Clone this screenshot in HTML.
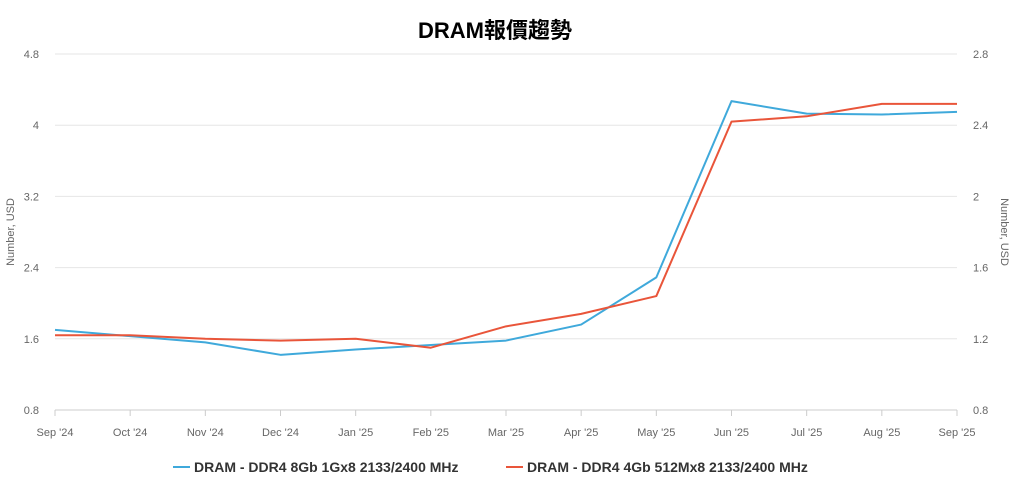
<!DOCTYPE html>
<html><head><meta charset="utf-8"><style>
body{margin:0;background:#fff;font-family:"Liberation Sans","Noto Sans CJK TC",sans-serif;}
svg text{font-family:"Liberation Sans","Noto Sans CJK TC",sans-serif;}
</style></head><body>
<svg id="chart" width="1015" height="481" xmlns="http://www.w3.org/2000/svg">
<text x="495" y="38" text-anchor="middle" font-size="22" font-weight="bold" fill="#000">DRAM報價趨勢</text>
<g id="grid"></g><g id="axes"></g><g id="series"></g>
<text transform="translate(14,232) rotate(-90)" text-anchor="middle" font-size="11" fill="#666">Number, USD</text>
<text transform="translate(1001,232) rotate(90)" text-anchor="middle" font-size="11" fill="#666">Number, USD</text>
<g>
<g><line x1="173" y1="467" x2="190" y2="467" stroke="#3fa9db" stroke-width="2"/><text x="194" y="472" font-size="14" font-weight="bold" fill="#333">DRAM - DDR4 8Gb 1Gx8 2133/2400 MHz</text></g>
<g><line x1="506" y1="467" x2="523" y2="467" stroke="#e9553a" stroke-width="2"/><text x="527" y="472" font-size="14" font-weight="bold" fill="#333">DRAM - DDR4 4Gb 512Mx8 2133/2400 MHz</text></g>
</g>
</svg>
<script>
const categories=["Sep '24","Oct '24","Nov '24","Dec '24","Jan '25","Feb '25","Mar '25","Apr '25","May '25","Jun '25","Jul '25","Aug '25","Sep '25"];
const series8gb=[1.70,1.63,1.56,1.42,1.48,1.53,1.58,1.76,2.29,4.27,4.13,4.12,4.15];
const series4gb=[1.22,1.22,1.20,1.19,1.20,1.15,1.27,1.34,1.44,2.42,2.45,2.52,2.52];
const leftTicks=["0.8","1.6","2.4","3.2","4","4.8"];
const rightTicks=["0.8","1.2","1.6","2","2.4","2.8"];
const NS="http://www.w3.org/2000/svg";
const x0=55,x1=957,yT=54,yB=410;
const xs=i=>x0+i*(x1-x0)/(categories.length-1);
const yL=v=>yB-(v-0.8)/(4.8-0.8)*(yB-yT);
const yR=v=>yB-(v-0.8)/(2.8-0.8)*(yB-yT);
function mk(t,a,p){const e=document.createElementNS(NS,t);for(const k in a)e.setAttribute(k,a[k]);p.appendChild(e);return e;}
const grid=document.getElementById('grid'),axes=document.getElementById('axes'),ser=document.getElementById('series');
leftTicks.forEach(t=>{const y=yL(+t);
 const g=mk('line',{x1:x0,x2:x1,y1:y,y2:y,stroke:'#e6e6e6'},grid);
 
 
 const l=mk('text',{x:x0-16,y:y+4,'text-anchor':'end','font-size':11,fill:'#666'},axes);l.textContent=t;
 
 });
rightTicks.forEach(t=>{const y=yR(+t);
 const l=mk('text',{x:x1+16,y:y+4,'text-anchor':'start','font-size':11,fill:'#666'},axes);l.textContent=t;
 
 });
const ax=mk('line',{x1:x0,x2:x1,y1:yB,y2:yB,stroke:'#ccc'},axes);


categories.forEach((c,i)=>{const x=xs(i);
 mk('line',{x1:x,x2:x,y1:yB,y2:yB+6,stroke:'#ccc'},axes);
 const l=mk('text',{x:x,y:yB+26,'text-anchor':'middle','font-size':11,fill:'#666'},axes);l.textContent=c;
 
 });
function line(data,yf,col,name){const d=data.map((v,i)=>(i?'L':'M')+xs(i)+','+yf(v)).join(' ');
 const p=mk('path',{d:d,fill:'none',stroke:col,'stroke-width':2,'stroke-linejoin':'round'},ser);
 
 }
line(series8gb,yL,'#3fa9db','series-ddr4-8gb');
line(series4gb,yR,'#e9553a','series-ddr4-4gb');
</script>
</body></html>
